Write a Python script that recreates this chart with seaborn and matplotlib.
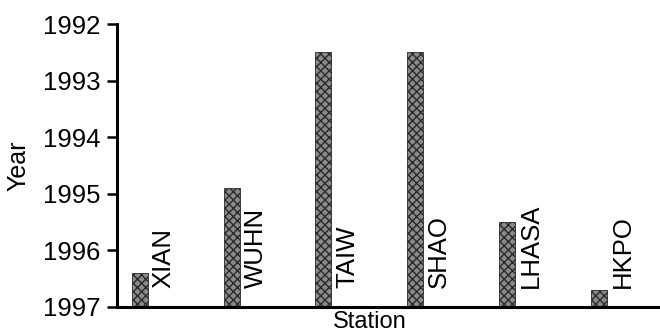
import matplotlib
matplotlib.use("Agg")
import matplotlib.pyplot as plt
import seaborn as sns
import pandas as pd

# Station records: year of the first observation at each station
stations = ["XIAN", "WUHN", "TAIW", "SHAO", "LHASA", "HKPO"]
years = [1996.4, 1994.9, 1992.5, 1992.5, 1995.5, 1996.7]
year_ticks = [1992, 1993, 1994, 1995, 1996, 1997]
base_year = 1997

sns.set_theme(style="ticks")
plt.rcParams["font.family"] = ["Liberation Sans", "DejaVu Sans"]
plt.rcParams["hatch.color"] = "#1e1e1e"
plt.rcParams["hatch.linewidth"] = 1.0
plt.rcParams["text.color"] = "black"
plt.rcParams["axes.labelcolor"] = "black"

df = pd.DataFrame({"Station": stations, "Year": years})
df["span"] = df["Year"] - base_year

fig = plt.figure(figsize=(6.6, 3.34), dpi=100)
ax = fig.add_axes([0.177, 0.081, 0.823, 0.847])

sns.barplot(data=df, x="Station", y="span", order=stations, width=0.175,
            color="#8a8a8a", saturation=1, edgecolor="#2a2a2a", linewidth=0.6,
            hatch="xxxx", bottom=base_year, ax=ax)

# station names beside each bar, reading upwards
for i, name in enumerate(stations):
    ax.text(i + 0.26, 1996.66, name, rotation=90, ha="center", va="bottom",
            fontsize=18.5, color="black")

ax.set_ylim(base_year, year_ticks[0])
ax.set_yticks(year_ticks)
ax.set_yticklabels([str(t) for t in year_ticks])
ax.set_xlim(-0.251, 5.67)
ax.set_xticks([])

ax.set_ylabel("Year", fontsize=18, labelpad=9)
ax.set_xlabel("Station", fontsize=17, labelpad=0)
ax.xaxis.set_label_coords(0.465, -0.093)
ax.xaxis.label.set_va("bottom")

ax.tick_params(axis="y", labelsize=18.5, length=7, width=1.8, direction="out",
               pad=5, color="black", labelcolor="black")
for side in ("top", "right"):
    ax.spines[side].set_visible(False)
for side in ("left", "bottom"):
    ax.spines[side].set_linewidth(2.2)
    ax.spines[side].set_color("black")

fig.savefig("out.png", dpi=100)
